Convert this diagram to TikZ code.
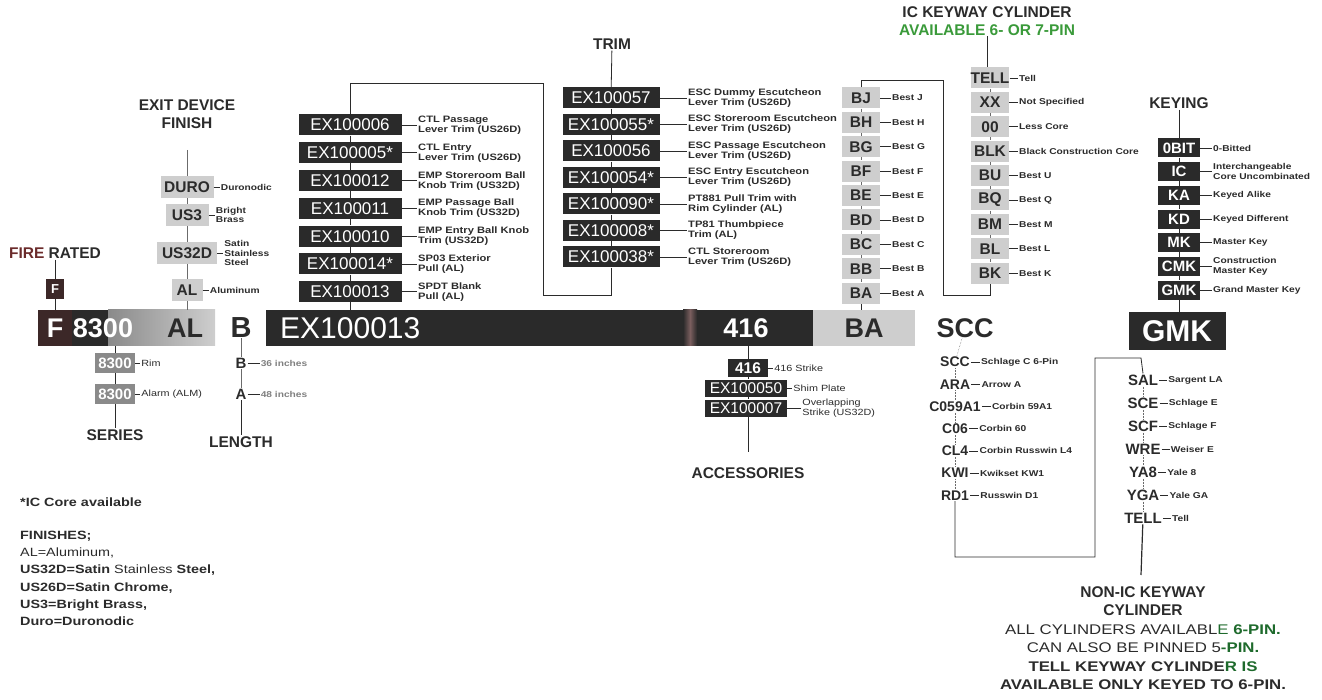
\documentclass[tikz,border=0pt]{standalone}
\usepackage{fontspec}
\setmainfont{Liberation Sans}
\newfontfamily\widefont{Liberation Sans}[FakeStretch=1.2]
\usetikzlibrary{positioning}
\definecolor{boxdark}{HTML}{2A2A2A}
\definecolor{boxgray}{HTML}{CECECE}
\definecolor{boxmid}{HTML}{8A8A8A}
\definecolor{fbrown}{HTML}{3C2828}
\definecolor{firered}{HTML}{6B2B2B}
\definecolor{txt}{HTML}{2B2B2B}
\definecolor{pingreen}{HTML}{3A9A3A}
\definecolor{darkgreen}{HTML}{1E6A2C}
\definecolor{seam}{HTML}{7A5E5E}

\begin{document}
\begin{tikzpicture}[x=1pt,y=-1pt,
  hdr/.style={font=\fontsize{15.5}{17.5}\selectfont\bfseries, text=txt, align=center, inner sep=1pt},
  dbox/.style={fill=boxdark, text=white, inner sep=0pt, minimum height=21pt, font=\fontsize{17}{17}\selectfont},
  gbox/.style={fill=boxgray, text=txt, inner sep=0pt, minimum height=21pt, font=\fontsize{15.5}{15.5}\selectfont\bfseries},
  kbox/.style={fill=boxdark, text=white, inner sep=0pt, minimum width=42pt, minimum height=19pt, font=\fontsize{15}{15}\selectfont\bfseries},
  cd/.style={text=txt, inner sep=1pt, font=\fontsize{14}{14}\selectfont\bfseries},
  desc/.style={text=txt, align=left, inner sep=1pt, font=\widefont\bfseries\fontsize{9.3}{10}\selectfont},
  small/.style={text=txt, align=left, inner sep=1pt, font=\widefont\bfseries\fontsize{8.5}{9.5}\selectfont},
  bigtxt/.style={inner sep=0pt, font=\fontsize{27}{27}\selectfont\bfseries},
  mainbar/.style={inner sep=0pt, minimum height=36pt},
  cline/.style={draw=txt, line width=0.8pt},
  dline/.style={draw=txt!70, line width=0.5pt}]
\useasboundingbox (0,0) rectangle (1322,700);

\node[mainbar, fill=fbrown, minimum width=34pt, bigtxt, text=white] (mF) at (55,328) {F};
\node[mainbar, fill=boxdark, minimum width=36pt] (mS) at (90,328) {};
\node[mainbar, left color=boxmid, right color=boxgray, minimum width=107pt] (mA) at (161.5,328) {};
\node[bigtxt, text=white] (t8300) at (103,328) {8300};
\node[bigtxt, text=txt] (tAL) at (185,328) {AL};
\node[bigtxt, text=txt, font=\fontsize{29}{29}\selectfont\bfseries] (mB) at (241,328) {B};
\node[mainbar, fill=boxdark, minimum width=547pt] (mbar) at (539.5,328) {};
\node[mainbar, left color=boxdark, right color=boxdark, middle color=seam, minimum width=14pt] (seam) at (690,328) {};
\node[anchor=west, inner sep=0pt, text=white, font=\fontsize{30}{30}\selectfont] (tEX) at (280,328) {EX100013};
\node[bigtxt, text=white] (t416) at (746,328) {416};
\node[mainbar, fill=boxgray, minimum width=102pt, bigtxt, text=txt] (mBA) at (864,328) {BA};
\node[bigtxt, text=txt] (mSCC) at (965,328) {SCC};
\node[mainbar, fill=boxdark, minimum width=97pt, minimum height=38pt, bigtxt, text=white, font=\fontsize{30}{30}\selectfont\bfseries] (mGMK) at (1177,331) {GMK};

\node[hdr] (hfire) at (55,253) {\textcolor{firered}{FIRE} RATED};
\node[fill=fbrown, text=white, inner sep=0pt, minimum width=18pt, minimum height=20pt, font=\fontsize{13}{13}\selectfont\bfseries] (fF) at (55,289) {F};
\draw[cline] (hfire) -- (fF);
\draw[cline] (fF) -- (mF);

\node[hdr] (hfin) at (187,114) {EXIT DEVICE\\FINISH};
\coordinate (fin0) at (187,150);
\foreach \nm/\cd/\y/\w/\tx in {f1/DURO/187/53/Duronodic, f2/US3/215/43/{Bright\\Brass}, f3/US32D/253/60/{Satin\\Stainless\\Steel}, f4/AL/290/31/Aluminum}{
  \node[gbox, minimum width=\w pt, minimum height=22pt] (\nm) at (187,\y) {\cd};
  \node[small, right=6pt of \nm] (l\nm) {\tx};
  \draw[cline] (\nm) -- (l\nm);
}
\draw[dline] (fin0) -- (f1);
\draw[dline] (f1) -- (f2);
\draw[dline] (f2) -- (f3);
\draw[dline] (f3) -- (f4);
\draw[dline] (f4) -- (f4 |- mA.north);

\foreach \nm/\y/\tx in {s1/363/Rim, s2/394/Alarm (ALM)}{
  \node[fill=boxmid, text=white, inner sep=0pt, minimum width=40pt, minimum height=20pt, font=\fontsize{15}{15}\selectfont\bfseries] (\nm) at (115,\y) {8300};
  \node[desc, font=\widefont\fontsize{9}{10}\selectfont, right=5pt of \nm] (l\nm) {\tx};
  \draw[cline] (\nm) -- (l\nm);
}
\node[hdr] (hser) at (115,435) {SERIES};
\draw[cline] (s1 |- mA.south) -- (s1);
\draw[cline] (s1) -- (s2);
\draw[cline] (s2) -- (hser);

\node[cd, font=\fontsize{15}{15}\selectfont\bfseries] (lB) at (241,363) {B};
\node[cd, font=\fontsize{15}{15}\selectfont\bfseries] (lA) at (241,394) {A};
\node[small, text=gray, right=12pt of lB] (llB) {36 inches};
\node[small, text=gray, right=12pt of lA] (llA) {48 inches};
\node[hdr] (hlen) at (241,442) {LENGTH};
\draw[cline] (lB) -- (llB);
\draw[cline] (lA) -- (llA);
\draw[dline] (mB) -- (lB);
\draw[dline] (lB) -- (lA);
\draw[cline] (lA) -- (hlen);

\coordinate (trtop) at (350,83);
\foreach \cd/\tx [count=\i] in {EX100006/{CTL Passage\\Lever Trim (US26D)}, EX100005*/{CTL Entry\\Lever Trim (US26D)}, EX100012/{EMP Storeroom Ball\\Knob Trim (US32D)}, EX100011/{EMP Passage Ball\\Knob Trim (US32D)}, EX100010/{EMP Entry Ball Knob\\Trim (US32D)}, EX100014*/{SP03 Exterior\\Pull (AL)}, EX100013/{SPDT Blank\\Pull (AL)}}{
  \node[dbox, minimum width=103pt] (tl\i) at (350,{125+(\i-1)*27.8}) {\cd};
  \node[desc, anchor=west] (ltl\i) at (417,{125+(\i-1)*27.8}) {\tx};
  \draw[cline] (tl\i) -- (ltl\i);
}
\foreach \i [evaluate=\i as \j using int(\i+1)] in {1,...,6}
  \draw[cline] (tl\i) -- (tl\j);
\draw[cline] (trtop) -- (tl1);
\draw[cline] (tl7) -- (tl7 |- mbar.north);

\node[hdr] (htrim) at (612,44) {TRIM};
\foreach \cd/\tx [count=\i] in {EX100057/{ESC Dummy Escutcheon\\Lever Trim (US26D)}, EX100055*/{ESC Storeroom Escutcheon\\Lever Trim (US26D)}, EX100056/{ESC Passage Escutcheon\\Lever Trim (US26D)}, EX100054*/{ESC Entry Escutcheon\\Lever Trim (US26D)}, EX100090*/{PT881 Pull Trim with\\Rim Cylinder (AL)}, EX100008*/{TP81 Thumbpiece\\Trim (AL)}, EX100038*/{CTL Storeroom\\Lever Trim (US26D)}}{
  \node[dbox, minimum width=97pt] (tr\i) at (611,{98+(\i-1)*26.5}) {\cd};
  \node[desc, anchor=west] (ltr\i) at (687,{98+(\i-1)*26.5}) {\tx};
  \draw[cline] (tr\i) -- (ltr\i);
}
\foreach \i [evaluate=\i as \j using int(\i+1)] in {1,...,6}
  \draw[cline] (tr\i) -- (tr\j);
\draw[cline] (htrim) -- (tr1);
\draw[cline] (tr7.south) |- (543,295) |- (trtop);

\foreach \cd [count=\i] in {J,H,G,F,E,D,C,B,A}{
  \node[gbox, minimum width=38pt] (ba\i) at (861,{98+(\i-1)*24.4}) {B\cd};
  \node[small, anchor=west] (lba\i) at (891,{98+(\i-1)*24.4}) {Best \cd};
  \draw[cline, line width=0.6pt] (ba\i) -- (lba\i);
}
\foreach \i [evaluate=\i as \j using int(\i+1)] in {1,...,8}
  \draw[dline] (ba\i) -- (ba\j);
\draw[cline] (ba9) -- (ba9 |- mBA.north);

\node[hdr] (hic) at (987,21) {IC KEYWAY CYLINDER\\\textcolor{pingreen}{AVAILABLE 6- OR 7-PIN}};
\foreach \cd/\tx [count=\i] in {TELL/Tell, XX/Not Specified, 00/Less Core, BLK/Black Construction Core, BU/Best U, BQ/Best Q, BM/Best M, BL/Best L, BK/Best K}{
  \node[gbox, minimum width=38pt] (ic\i) at (990,{78+(\i-1)*24.4}) {\cd};
  \node[small, anchor=west] (lic\i) at (1018,{78+(\i-1)*24.4}) {\tx};
  \draw[cline, line width=0.6pt] (ic\i) -- (lic\i);
}
\foreach \i [evaluate=\i as \j using int(\i+1)] in {1,...,8}
  \draw[dline] (ic\i) -- (ic\j);
\draw[cline] (hic.south) -- (hic.south |- ic1.north);
\coordinate (icb) at (990,295);
\draw[cline] (ba1.north) |- (943,80) |- (icb) -- (ic9.south);

\node[hdr] (hkey) at (1179,103) {KEYING};
\foreach \cd/\tx [count=\i] in {0BIT/0-Bitted, IC/{Interchangeable\\Core Uncombinated}, KA/Keyed Alike, KD/Keyed Different, MK/Master Key, CMK/{Construction\\Master Key}, GMK/Grand Master Key}{
  \node[kbox] (k\i) at (1179,{148+(\i-1)*23.7}) {\cd};
  \node[small, anchor=west] (lk\i) at (1212,{148+(\i-1)*23.7}) {\tx};
  \draw[cline, line width=0.6pt] (k\i) -- (lk\i);
}
\foreach \i [evaluate=\i as \j using int(\i+1)] in {1,...,6}
  \draw[cline] (k\i) -- (k\j);
\draw[cline] (hkey) -- (k1);
\draw[cline] (k7) -- (k7 |- mGMK.north);

\node[dbox, minimum width=40pt, minimum height=17pt, font=\fontsize{15.5}{15.5}\selectfont\bfseries] (ac1) at (748,368) {416};
\node[dbox, minimum width=82pt, minimum height=17pt, font=\fontsize{15.5}{15.5}\selectfont] (ac2) at (746,388) {EX100050};
\node[dbox, minimum width=82pt, minimum height=17pt, font=\fontsize{15.5}{15.5}\selectfont] (ac3) at (746,408) {EX100007};
\node[desc, font=\widefont\fontsize{9}{10}\selectfont, right=5pt of ac1] (lac1) {416 Strike};
\node[desc, font=\widefont\fontsize{9}{10}\selectfont, right=5pt of ac2] (lac2) {Shim Plate};
\node[desc, font=\widefont\fontsize{9}{10}\selectfont, right=14pt of ac3] (lac3) {Overlapping\\Strike (US32D)};
\foreach \i in {1,2,3}
  \draw[cline] (ac\i) -- (lac\i);
\coordinate (acc0) at (748,452);
\node[hdr] (hacc) at (748,473) {ACCESSORIES};
\draw[cline] (ac1 |- mbar.south) -- (ac1);
\draw[cline] (ac1) -- (ac1 |- ac2.north);
\draw[cline] (ac1 |- ac2.south) -- (ac1 |- ac3.north);
\draw[cline] (ac1 |- ac3.south) -- (acc0);

\foreach \cd/\tx [count=\i] in {SCC/Schlage C 6-Pin, ARA/Arrow A, C059A1/Corbin 59A1, C06/Corbin 60, CL4/Corbin Russwin L4, KWI/Kwikset KW1, RD1/Russwin D1}{
  \node[cd] (sc\i) at (955,{362+(\i-1)*22.2}) {\cd};
  \node[small, right=9pt of sc\i] (lsc\i) {\tx};
  \draw[cline, line width=0.6pt] (sc\i) -- (lsc\i);
}
\foreach \i [evaluate=\i as \j using int(\i+1)] in {1,...,6}
  \draw[dline, densely dotted] (sc\i) -- (sc\j);
\draw[dline, densely dotted] (mSCC) -- (sc1);

\foreach \cd/\tx [count=\i] in {SAL/Sargent LA, SCE/Schlage E, SCF/Schlage F, WRE/Weiser E, YA8/Yale 8, YGA/Yale GA, TELL/Tell}{
  \node[cd, font=\fontsize{15}{15}\selectfont\bfseries] (n\i) at (1143,{380+(\i-1)*23}) {\cd};
  \node[small, right=8pt of n\i] (ln\i) {\tx};
  \draw[cline, line width=0.6pt] (n\i) -- (ln\i);
}
\foreach \i [evaluate=\i as \j using int(\i+1)] in {1,...,6}
  \draw[dline, densely dotted] (n\i) -- (n\j);
\draw[cline] (sc7.south) |- (1095,557) |- (1141,358) -- (n1.north);
\coordinate (nonic0) at (1141,575);
\draw[cline, line width=1.2pt] (n7) -- (nonic0);
\node[hdr] (hnonic) at (1143,601) {NON-IC KEYWAY\\CYLINDER};
\node[align=center, text=txt, inner sep=0pt, font=\widefont\fontsize{14}{18.5}\selectfont] (pins) at (1143,657) {ALL CYLINDERS AVAILABL\textcolor{darkgreen}{E \textbf{6-PIN.}}\\CAN ALSO BE PINNED 5\textcolor{darkgreen}{\textbf{-PIN.}}\\\textbf{TELL KEYWAY CYLINDE\textcolor{darkgreen}{R IS}}\\\textbf{AVAILABLE ONLY KEYED TO 6-PIN.}};

\node[anchor=west, text=txt, inner sep=0pt, font=\widefont\bfseries\fontsize{12}{12}\selectfont] (icnote) at (20,502) {*IC Core available};
\node[anchor=north west, align=left, text=txt, inner sep=0pt, font=\widefont\fontsize{12}{17.2}\selectfont] (fins) at (20,531) {\textbf{FINISHES;}\\AL=Aluminum,\\\textbf{US32D=Satin} Stainless \textbf{Steel,}\\\textbf{US26D=Satin Chrome,}\\\textbf{US3=Bright Brass,}\\\textbf{Duro=Duronodic}};
\end{tikzpicture}
\end{document}
